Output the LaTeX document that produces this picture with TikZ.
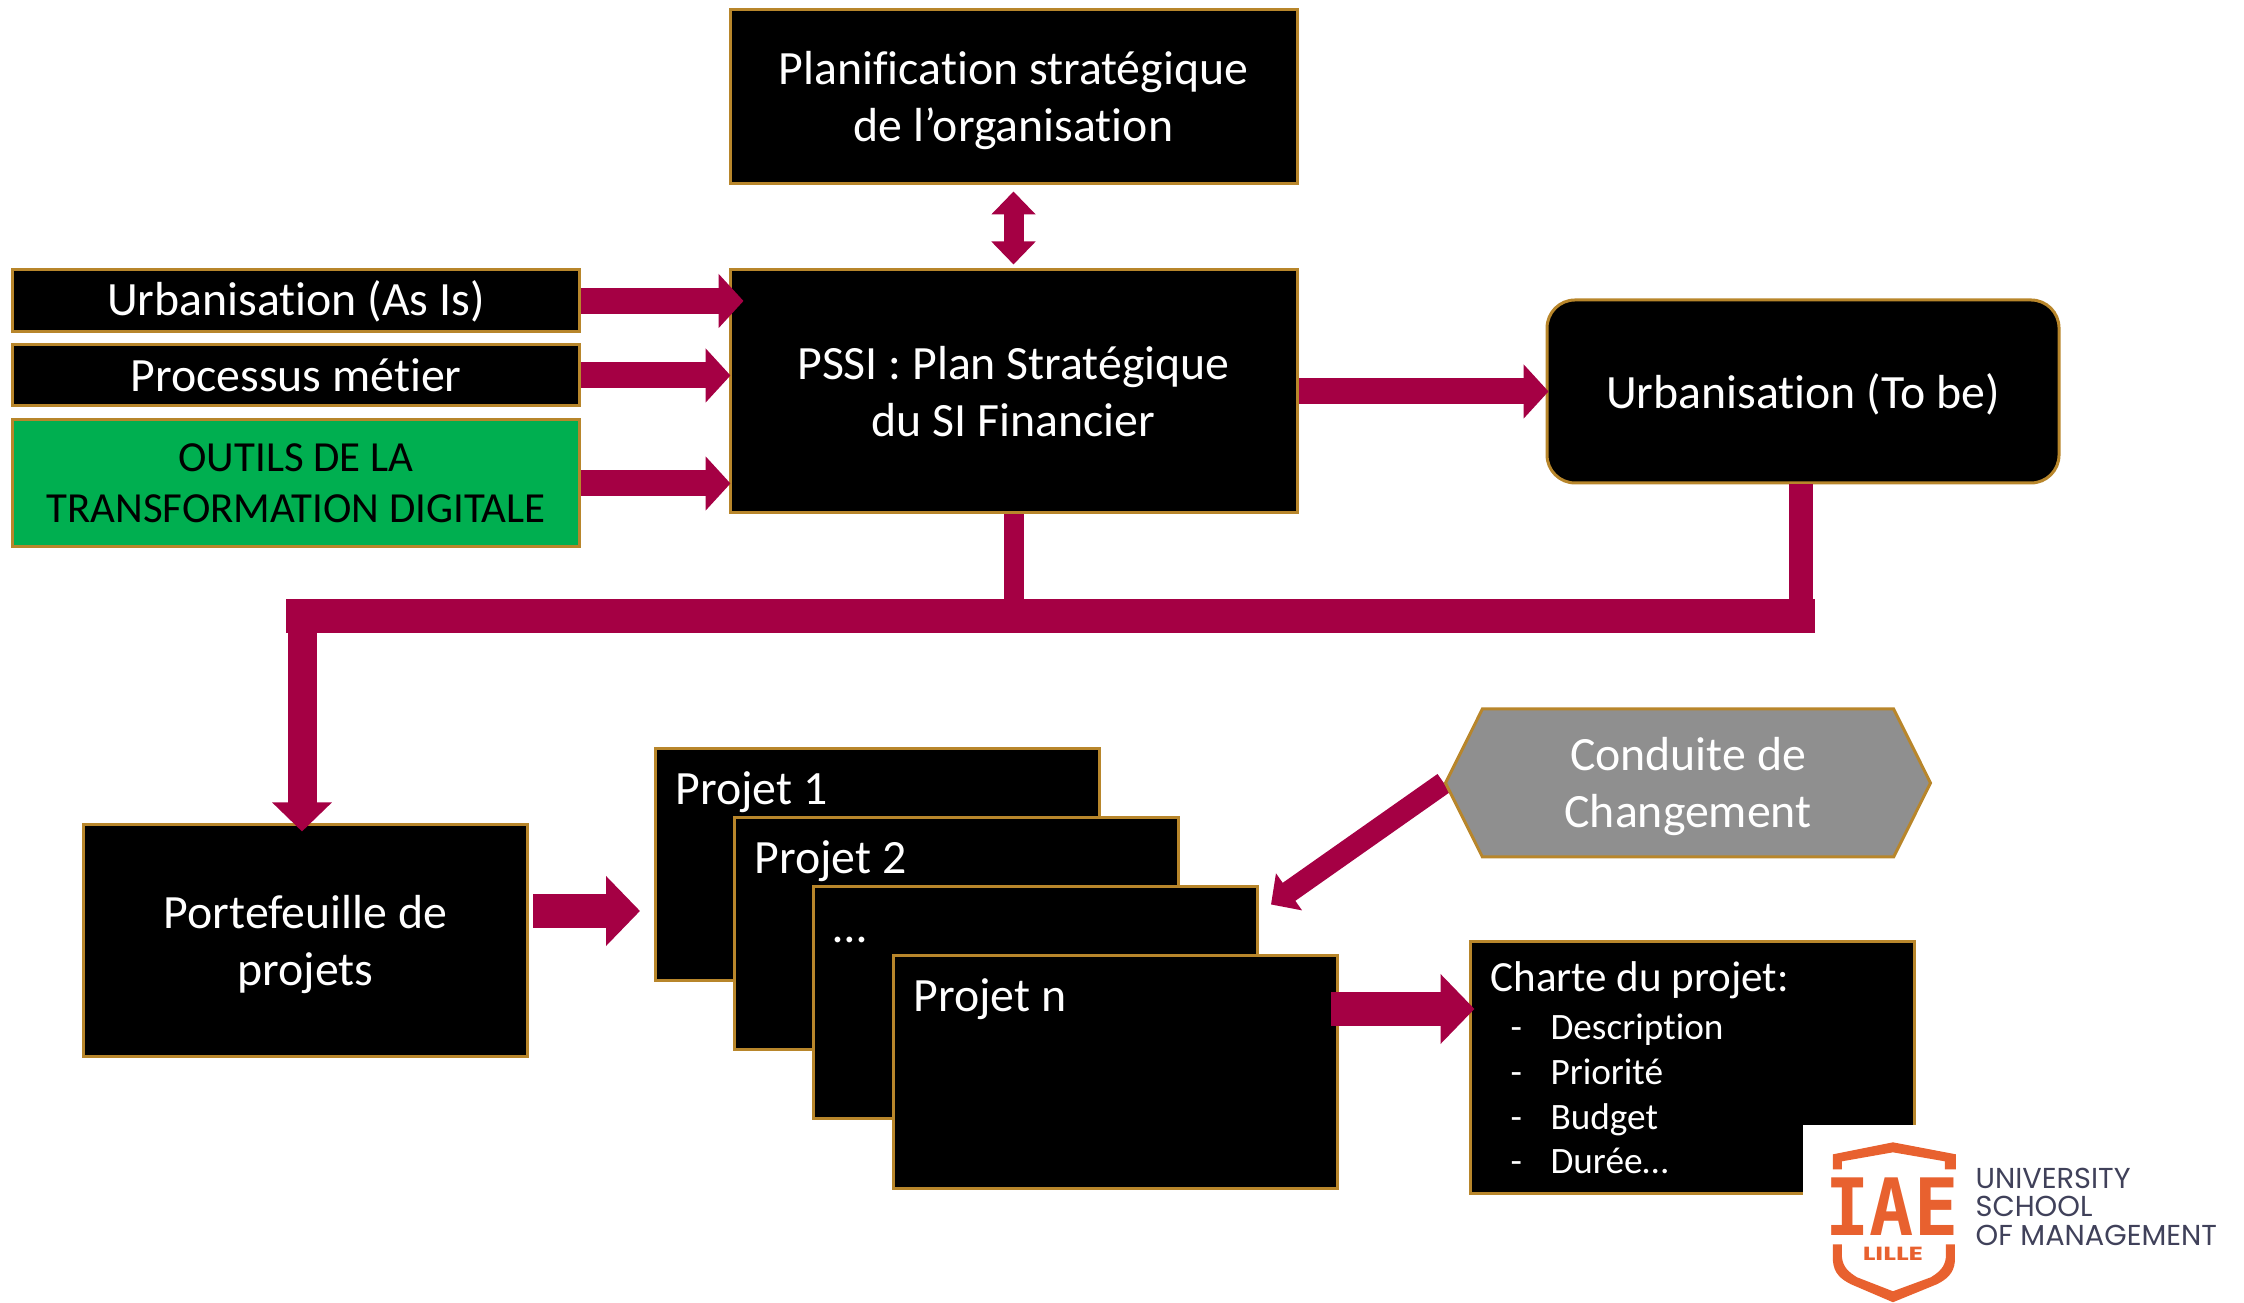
\documentclass[tikz,border=0pt]{standalone}
\usepackage{fontspec}
\setmainfont[Ligatures=NoCommon]{Carlito}
\newfontfamily\logofont{Poppins}
\newfontfamily\logoslab{DejaVu Sans Mono}
\usetikzlibrary{arrows.meta,shapes.symbols,backgrounds}
\definecolor{goldline}{HTML}{B8862B}
\definecolor{flowred}{HTML}{A50044}
\definecolor{toolgreen}{HTML}{00AF50}
\definecolor{changegrey}{HTML}{8F8F8F}
\definecolor{logoorange}{HTML}{E8612F}
\definecolor{logoink}{HTML}{40415A}
\newcommand{\charteitem}[1]{\hspace*{.2cm}\makebox[.4cm][l]{-}#1}
\newcommand{\firstline}{\rule{0pt}{.4cm}}
\tikzset{%
  >={Triangle[width=5.3mm,length=2.5mm]},
  % Specifications for style of nodes:
        base/.style = {rectangle, draw=goldline, line width=.03cm, fill=black,
                       text=white, text centered, inner sep=0pt,
                       font=\fontsize{13.6pt}{16.2pt}\selectfont},
       tools/.style = {base, fill=toolgreen, text=black,
                       font=\fontsize{12.2pt}{14.6pt}\selectfont},
    changing/.style = {base, signal, signal to=east and west,
                       signal pointer angle=127, fill=changegrey},
      charter/.style = {base, align=flush left, text width=4.04cm,
                       font=\fontsize{12.25pt}{16.2pt}\selectfont},
    projlabel/.style = {anchor=north west, inner sep=0pt, xshift=.21cm, yshift=-.24cm,
                       text height=.32cm, text depth=.1cm, text=white,
                       font=\fontsize{13.6pt}{16.2pt}\selectfont},
  % Specifications for style of block arrows:
        flow/.style = {->, draw=flowred, line width=.26cm},
     flowbig/.style = {draw=flowred, line width=.34cm,
                       -{Triangle[width=6.8mm,length=3.4mm]}},
    flowside/.style = {draw=flowred, line width=.22cm,
                       -{Triangle[width=4.4mm,length=2.2mm]}},
    flowboth/.style = {draw=flowred, line width=.2cm,
                       {Triangle[width=4.3mm,length=2.3mm]}-{Triangle[width=4.3mm,length=2.3mm]}},
}
\begin{document}
\begin{tikzpicture}[node distance=1.5cm]
  \useasboundingbox (0,0) rectangle (22.44,13.03);
  % Specification of nodes (position, etc.)
  \node (plan)       [base, minimum width=5.67cm, minimum height=1.74cm, align=center]
                     at (10.135,12.06) {\firstline Planification stratégique\\de l’organisation};
  \node (pssi)       [base, minimum width=5.67cm, minimum height=2.43cm, align=center,
                     below of=plan, yshift=-1.445cm]
                                         {PSSI : Plan Stratégique\\du SI Financier};
  \node (urbaAsIs)   [base, minimum width=5.67cm, minimum height=.62cm,
                     left of=pssi, xshift=-5.675cm, yshift=.905cm]
                                                       {Urbanisation (As Is)};
  \node (processus)  [base, minimum width=5.67cm, minimum height=.61cm,
                     below of=urbaAsIs, yshift=.755cm] {Processus métier};
  \node (outils)     [tools, minimum width=5.67cm, minimum height=1.27cm, align=center,
                     below of=processus, yshift=.42cm]
                                       {OUTILS DE LA\\TRANSFORMATION DIGITALE};
  \node (urbaToBe)   [base, rounded corners=.28cm, minimum width=5.12cm,
                     minimum height=1.83cm, right of=pssi, xshift=6.395cm]
                                             {\firstline Urbanisation (To be)};
  \node (portfolio)  [base, minimum width=4.44cm, minimum height=2.32cm, align=center,
                     below of=outils, xshift=.095cm, yshift=-3.075cm]
                                        {\firstline Portefeuille de\\projets};
  \node (projet1)    [base, minimum width=4.44cm, minimum height=2.32cm,
                     label={[projlabel]north west:Projet 1},
                     right of=portfolio, xshift=4.22cm, yshift=.76cm] {};
  \node (projet2)    [base, minimum width=4.44cm, minimum height=2.32cm,
                     label={[projlabel]north west:Projet 2},
                     right of=projet1, xshift=-.71cm, yshift=-.69cm] {};
  \node (projet3)    [base, minimum width=4.44cm, minimum height=2.32cm,
                     label={[projlabel]north west:…},
                     right of=projet2, xshift=-.71cm, yshift=-.69cm] {};
  \node (projetN)    [base, minimum width=4.44cm, minimum height=2.33cm,
                     label={[projlabel]north west:Projet n},
                     right of=projet3, xshift=-.7cm, yshift=-.695cm] {};
  \node (charte)     [charter, minimum width=4.44cm, minimum height=2.52cm,
                     right of=projetN, xshift=4.27cm, yshift=.045cm]
                     {Charte du projet:\\[.7pt]
                      \fontsize{10.6pt}{12.8pt}\selectfont
                      \charteitem{Description}\\
                      \charteitem{Priorité}\\
                      \charteitem{Budget}\\
                      \charteitem{Durée…}\par};
  \node (conduite)   [changing, minimum width=4.85cm, minimum height=1.48cm, align=center,
                     above of=charte, xshift=-.045cm, yshift=1.35cm]
                                          {\firstline Conduite de\\Changement};
  \coordinate (conduiteTip) at ([xshift=.12cm,yshift=-.19cm]projet3.north east);
  \coordinate (bandRight) at ([xshift=.12cm,yshift=-1.32cm]urbaToBe.south);
  \coordinate (bandLeft)  at (portfolio.north -| urbaAsIs.west);
  % Specification of lines between nodes specified above
  \draw[flowboth,shorten >=.04cm,shorten <=.06cm] (plan) -- (pssi);
  \draw[flow] (urbaAsIs.east) -- ([xshift=.15cm]urbaAsIs.east -| pssi.west);
  \draw[flow] (processus.east) -- ([xshift=.02cm]processus.east -| pssi.west);
  \draw[flow] (outils.east) -- ([xshift=.02cm]outils.east -| pssi.west);
  \draw[flow] (pssi.east) -- ([xshift=.03cm]urbaToBe.west);
  \draw[draw=flowred, line width=.24cm] ([xshift=-.02cm]urbaToBe.south) -- ([xshift=-.02cm,yshift=-.17cm]urbaToBe.south |- bandRight);
  \draw[draw=flowred, line width=.2cm] (pssi.south) -- (pssi.south |- bandRight);
  \draw[draw=flowred, line width=.34cm] (bandRight) -- ([xshift=2.75cm]bandLeft |- bandRight);
  \draw[flowbig, line width=.29cm, -{Triangle[width=5.8mm,length=2.9mm]}]
     ([xshift=-.035cm,yshift=.17cm]portfolio.north |- bandRight) -- ([xshift=-.035cm,yshift=-.08cm]portfolio.north);
  \draw[flowbig] ([xshift=.04cm,yshift=.3cm]portfolio.east) -- ([xshift=-.14cm,yshift=.3cm]portfolio.east -| projet1.west);
  \draw[flowbig] ([xshift=-.08cm,yshift=.635cm]projetN.east) -- ([xshift=.055cm,yshift=.635cm]projetN.east -| charte.west);
  \begin{pgfonlayer}{background}
    \draw[flowside] (conduite.west) -- (conduiteTip);
  \end{pgfonlayer}
  % logo in the lower corner
  \begin{scope}[shift={(0,13.03)},x=.01cm,y=-.01cm]
    \fill[white] (1804,1126) rectangle (2244,1303);
    \fill[logoorange] (1834,1155) -- (1894,1143) -- (1957,1155) -- (1957,1170)
       -- (1946,1170) -- (1946,1162) -- (1894,1153) -- (1843,1162) -- (1843,1170)
       -- (1834,1170) -- cycle;
    \fill[logoorange] (1834,1245) -- (1843,1245) -- (1843,1258)
       .. controls (1844,1268) and (1850,1273) .. (1858,1278) -- (1894,1292)
       -- (1932,1278) .. controls (1940,1273) and (1946,1268) .. (1947,1258)
       -- (1947,1245) -- (1956,1245) -- (1956,1262)
       .. controls (1955,1274) and (1948,1280) .. (1938,1285) -- (1894,1303)
       -- (1852,1285) .. controls (1842,1280) and (1835,1274) .. (1834,1262) -- cycle;
    \node (logoIae) [anchor=center, inner sep=0pt, text=logoorange, xscale=.93, transform shape,
       font=\logoslab\bfseries\fontsize{22.5pt}{22.5pt}\selectfont] at (1893,1207) {IAE};
    \node (logoLille) [anchor=center, inner sep=0pt, text=logoorange, xscale=1.4, transform shape,
       font=\logofont\bfseries\fontsize{5.4pt}{6pt}\selectfont] at (1894,1255) {LILLE};
    \node (logoText) [anchor=north west, inner sep=0pt, text=logoink, align=left,
       font=\logofont\fontsize{8.2pt}{8.08pt}\selectfont] at (1976,1168)
       {UNIVERSITY\\SCHOOL\\OF MANAGEMENT};
  \end{scope}
\end{tikzpicture}
\end{document}
